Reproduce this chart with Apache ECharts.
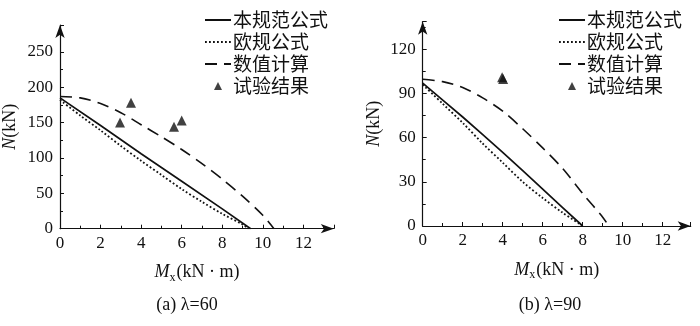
<!DOCTYPE html>
<html>
<head>
<meta charset="utf-8">
<script src="https://cdn.jsdelivr.net/npm/echarts@6/dist/echarts.min.js"></script>
<style>
html, body { margin: 0; padding: 0; background: #fff; }
#chart { width: 700px; height: 326px; }
</style>
</head>
<body>
<div id="chart"></div>
<script>
// Series names (shared by both panels)
const seriesNames = ['本规范公式', '欧规公式', '数值计算', '试验结果'];

// Panel (a): λ = 60, points are [Mx (kN·m), N (kN)]
const codeA = [[0, 185], [2, 146], [4, 106], [6, 67], [8, 28], [9.4, 0]];
const euroA = [[0, 182], [1, 160], [2, 139], [3, 117], [4, 96], [5, 76], [6, 56], [7, 38], [8, 21], [9, 6], [9.3, 0]];
const numA = [[0, 187], [1, 185], [2, 177], [3, 164], [4, 147], [5, 130], [6, 112], [7, 92], [8, 70], [9, 46], [10, 19], [10.55, 0]];
const testA = [[2.96, 150], [3.5, 178], [5.62, 144], [6.0, 153]];

// Panel (b): λ = 90
const codeB = [[0, 97], [2, 74], [4, 50], [6, 25], [8, 0]];
const euroB = [[0, 96], [1, 83], [2, 70], [3, 56], [4, 43], [5, 30], [6, 19], [7, 9], [8, 0]];
const numB = [[0, 99.6], [1, 98], [2, 94], [3, 87], [4, 78], [5, 66], [6, 53], [7, 39], [8, 22], [9, 6], [9.3, 0]];
const testB = [[3.97, 101], [4.02, 99.8]];

// Axis ticks
const xTickStep = 2;
const yTickStepA = 50;
const yTickStepB = 30;

const captions = ['(a) λ=60', '(b) λ=90'];

const serif = '"Liberation Serif", "Noto Sans CJK SC", serif';
const cjk = '"Noto Sans CJK SC", "Liberation Serif", sans-serif';
const ink = '#111';

const chart = echarts.init(document.getElementById('chart'), null, { renderer: 'canvas' });

function xAxisFor(gridIndex, max) {
  return {
    type: 'value', gridIndex, min: 0, max, interval: xTickStep,
    name: '{i|M}{s|x}(kN · m)',
    nameLocation: 'middle', nameGap: 33,
    nameTextStyle: {
      color: ink, fontFamily: serif, fontSize: 18,
      rich: {
        i: { fontStyle: 'italic', fontFamily: serif, fontSize: 18, color: ink },
        s: { fontFamily: serif, fontSize: 12, color: ink, padding: [10, 1, 0, 0] }
      }
    },
    axisLine: { show: true, lineStyle: { color: ink, width: 1.2 }, symbol: ['none', 'arrow'], symbolSize: [7, 13] },
    axisTick: { show: true, inside: true, length: 4, lineStyle: { color: ink } },
    minorTick: { show: true, splitNumber: 2, length: 3, lineStyle: { color: ink } },
    axisLabel: { color: ink, fontFamily: serif, fontSize: 17, margin: 6, showMaxLabel: false },
    splitLine: { show: false }
  };
}

function yAxisFor(gridIndex, max, step, gap) {
  return {
    type: 'value', gridIndex, min: 0, max, interval: step,
    name: '{i|N}(kN)',
    nameLocation: 'middle', nameRotate: 90, nameGap: gap,
    nameTextStyle: {
      color: ink, fontFamily: serif, fontSize: 18,
      rich: { i: { fontStyle: 'italic', fontFamily: serif, fontSize: 18, color: ink } }
    },
    axisLine: { show: true, lineStyle: { color: ink, width: 1.2 }, symbol: ['none', 'arrow'], symbolSize: [7, 13] },
    axisTick: { show: true, inside: true, length: 4, lineStyle: { color: ink } },
    minorTick: { show: true, splitNumber: 2, length: 3, lineStyle: { color: ink } },
    axisLabel: { color: ink, fontFamily: serif, fontSize: 17, margin: 7, showMaxLabel: false },
    splitLine: { show: false }
  };
}

function lineSeries(name, data, idx, type, smooth, width) {
  return {
    name, type: 'line', data, xAxisIndex: idx, yAxisIndex: idx,
    symbol: 'none', smooth, silent: true,
    lineStyle: { color: ink, width, type, cap: 'butt' },
    itemStyle: { color: ink }
  };
}

function scatterSeries(name, data, idx) {
  return {
    name, type: 'scatter', data, xAxisIndex: idx, yAxisIndex: idx,
    symbol: 'triangle', symbolSize: 10, silent: true,
    itemStyle: { color: ink }
  };
}

// Small triangle centred in a padded box so the legend keeps it small
const legendTriangle = 'path://M0,0M14,14M3,11L7,3L11,11Z';
// Line entries show only the stroke, no marker
const noMarker = { opacity: 0 };

function legendFor(left) {
  return {
    orient: 'vertical', left, top: 4,
    itemWidth: 26, itemHeight: 14, itemGap: 0,
    selectedMode: false,
    textStyle: { color: ink, fontFamily: cjk, fontSize: 19, lineHeight: 22, padding: [0, 0, 0, -3] },
    data: [
      { name: seriesNames[0], itemStyle: noMarker },
      { name: seriesNames[1], itemStyle: noMarker },
      { name: seriesNames[2], itemStyle: noMarker },
      { name: seriesNames[3], icon: legendTriangle }
    ]
  };
}

const dotted = [1.8, 2.2];
const dashed = [12, 7];

const option = {
  backgroundColor: '#fff',
  animation: false,
  legend: [legendFor(199), legendFor(553)],
  grid: [
    { left: 60, top: 25, width: 273.8, height: 203.7 },
    { left: 422.7, top: 21.7, width: 268, height: 204.3 }
  ],
  xAxis: [xAxisFor(0, 13.5), xAxisFor(1, 13.4)],
  yAxis: [yAxisFor(0, 288, yTickStepA, 41), yAxisFor(1, 138.7, yTickStepB, 39)],
  series: [
    lineSeries(seriesNames[0], codeA, 0, 'solid', false, 1.7),
    lineSeries(seriesNames[1], euroA, 0, dotted, 0.3, 1.8),
    lineSeries(seriesNames[2], numA, 0, dashed, 0.3, 1.6),
    scatterSeries(seriesNames[3], testA, 0),
    lineSeries(seriesNames[0], codeB, 1, 'solid', 0.2, 1.7),
    lineSeries(seriesNames[1], euroB, 1, dotted, 0.3, 1.8),
    lineSeries(seriesNames[2], numB, 1, dashed, 0.3, 1.6),
    scatterSeries(seriesNames[3], testB, 1)
  ],
  graphic: [
    { type: 'text', style: { text: captions[0], x: 187, y: 305, align: 'center', verticalAlign: 'middle', font: '18px "Liberation Serif", serif', fill: ink } },
    { type: 'text', style: { text: captions[1], x: 550, y: 305, align: 'center', verticalAlign: 'middle', font: '18px "Liberation Serif", serif', fill: ink } }
  ]
};

chart.setOption(option);
</script>
</body>
</html>
